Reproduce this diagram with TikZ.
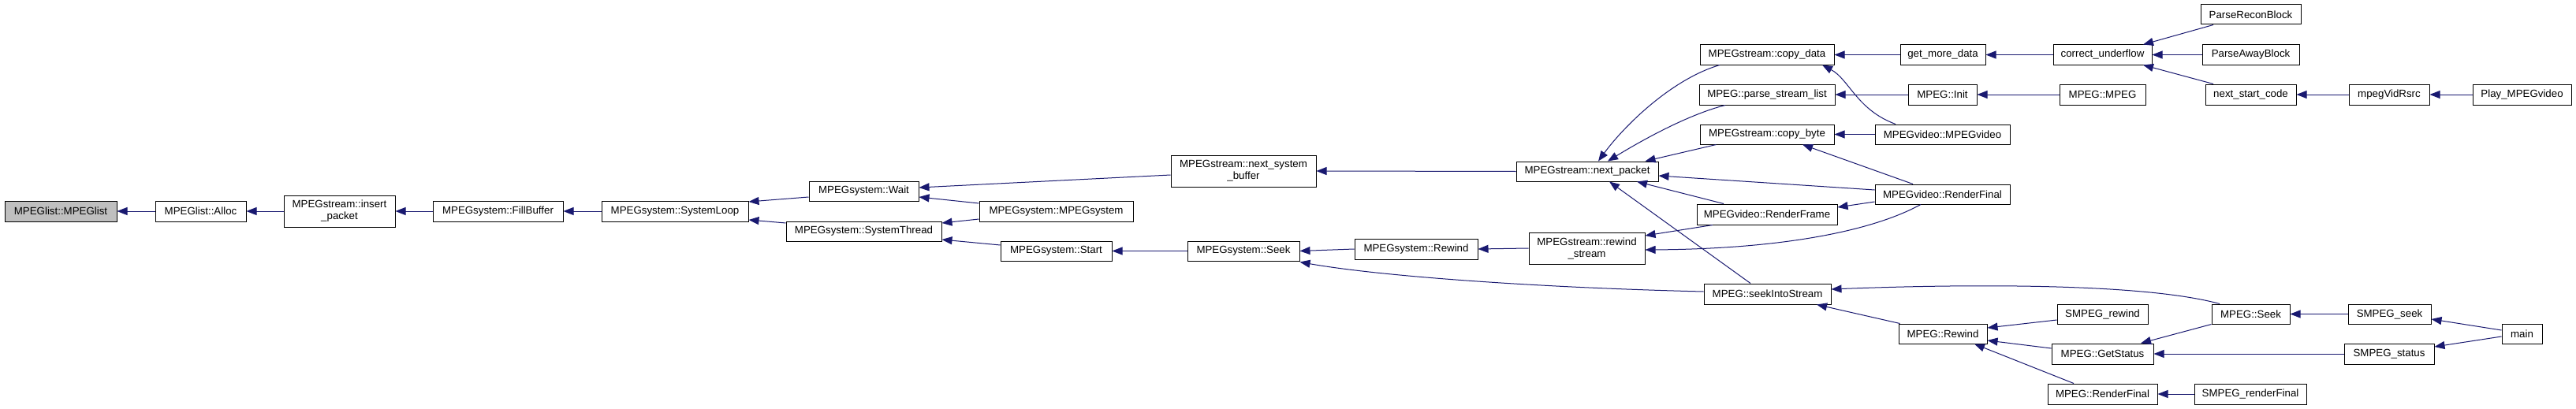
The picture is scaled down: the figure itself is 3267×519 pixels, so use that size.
\documentclass[tikz,border=0pt]{standalone}
\usepackage{fontspec}
\setmainfont{Liberation Sans}
\usetikzlibrary{arrows.meta,calc}
\definecolor{edgecol}{HTML}{191970}
\definecolor{rootfill}{HTML}{BFBFBF}
\begin{document}
\begin{tikzpicture}[x=1pt,y=-1pt,
  box/.style={draw=black, line width=1pt, fill=white, inner sep=0pt, align=center,
    font=\fontsize{13.3}{15}\selectfont},
  edge/.style={draw=edgecol, line width=1pt, {Triangle[length=13pt,width=10pt]}-}]
\useasboundingbox[fill=white] (0,0) rectangle (3267,519);
% nodes
\node[box, fill=rootfill, minimum width=142, minimum height=26] (mpeglist) at (77,268) {MPEGlist::MPEGlist};
\node[box, minimum width=115, minimum height=26] (alloc) at (254.5,268) {MPEGlist::Alloc};
\node[box, minimum width=141, minimum height=40] (insert) at (430.5,268) {MPEGstream::insert\\\_packet};
\node[box, minimum width=165, minimum height=26] (fill) at (631.5,268) {MPEGsystem::FillBuffer};
\node[box, minimum width=186, minimum height=26] (loop) at (856,268) {MPEGsystem::SystemLoop};
\node[box, minimum width=139, minimum height=25] (wait) at (1095.5,242.5) {MPEGsystem::Wait};
\node[box, minimum width=197, minimum height=25] (thread) at (1095.5,293.5) {MPEGsystem::SystemThread};
\node[box, minimum width=195, minimum height=26] (sysctor) at (1339.5,268) {MPEGsystem::MPEGsystem};
\node[box, minimum width=141, minimum height=25] (start) at (1339.5,318.5) {MPEGsystem::Start};
\node[box, minimum width=184, minimum height=40] (nsb) at (1577,217) {MPEGstream::next\_system\\\_buffer};
\node[box, minimum width=142, minimum height=25] (sysseek) at (1577,318.5) {MPEGsystem::Seek};
\node[box, minimum width=180, minimum height=25] (nextpacket) at (2013,217.5) {MPEGstream::next\_packet};
\node[box, minimum width=156, minimum height=26] (sysrewind) at (1796,316) {MPEGsystem::Rewind};
\node[box, minimum width=147, minimum height=40] (rewindstream) at (2012.5,315) {MPEGstream::rewind\\\_stream};
\node[box, minimum width=170, minimum height=25] (copydata) at (2241,69.5) {MPEGstream::copy\_data};
\node[box, minimum width=172, minimum height=26] (parse) at (2241,120) {MPEG::parse\_stream\_list};
\node[box, minimum width=170, minimum height=25] (copybyte) at (2241,170.5) {MPEGstream::copy\_byte};
\node[box, minimum width=178, minimum height=26] (renderframe) at (2241,272) {MPEGvideo::RenderFrame};
\node[box, minimum width=161, minimum height=26] (seekinto) at (2241.5,373) {MPEG::seekIntoStream};
\node[box, minimum width=108, minimum height=25] (getmore) at (2464,69.5) {get\_more\_data};
\node[box, minimum width=87, minimum height=26] (init) at (2463.5,120) {MPEG::Init};
\node[box, minimum width=171, minimum height=25] (vidctor) at (2463.5,170.5) {MPEGvideo::MPEGvideo};
\node[box, minimum width=171, minimum height=25] (vidrenderfinal) at (2463.5,246.5) {MPEGvideo::RenderFinal};
\node[box, minimum width=112, minimum height=25] (mpegrewind) at (2464,423.5) {MPEG::Rewind};
\node[box, minimum width=125, minimum height=25] (correct) at (2666.5,69.5) {correct\_underflow};
\node[box, minimum width=109, minimum height=26] (mpegctor) at (2666.5,120) {MPEG::MPEG};
\node[box, minimum width=115, minimum height=25] (smpegrewind) at (2666.5,398.5) {SMPEG\_rewind};
\node[box, minimum width=129, minimum height=26] (getstatus) at (2666.5,449) {MPEG::GetStatus};
\node[box, minimum width=139, minimum height=26] (mpegrenderfinal) at (2666.5,500) {MPEG::RenderFinal};
\node[box, minimum width=127, minimum height=25] (recon) at (2854.5,18.5) {ParseReconBlock};
\node[box, minimum width=123, minimum height=25] (away) at (2854.5,69.5) {ParseAwayBlock};
\node[box, minimum width=115, minimum height=26] (nsc) at (2854.5,120) {next\_start\_code};
\node[box, minimum width=99, minimum height=25] (mpegseek) at (2854.5,398.5) {MPEG::Seek};
\node[box, minimum width=142, minimum height=26] (smpegrenderfinal) at (2854,500) {SMPEG\_renderFinal};
\node[box, minimum width=102, minimum height=26] (vidrsrc) at (3030,120) {mpegVidRsrc};
\node[box, minimum width=105, minimum height=25] (smpegseek) at (3030.5,398.5) {SMPEG\_seek};
\node[box, minimum width=114, minimum height=26] (smpegstatus) at (3030,449) {SMPEG\_status};
\node[box, minimum width=125, minimum height=26] (play) at (3198.5,120) {Play\_MPEGvideo};
\node[box, minimum width=51, minimum height=25] (main) at (3198.5,423.5) {main};
% edges (arrowhead at the callee)
\draw[edge] (mpeglist.east) -- (alloc.west);
\draw[edge] (alloc.east) -- (insert.west);
\draw[edge] (insert.east) -- (fill.west);
\draw[edge] (fill.east) -- (loop.west);
\draw[edge] ($(loop.east)+(0,-12)$) -- ($(wait.west)+(0,7.5)$);
\draw[edge] ($(loop.east)+(0,11)$) -- ($(thread.west)+(0,-10.5)$);
\draw[edge] ($(wait.east)+(0,-4.5)$) -- ($(nsb.west)+(0,5)$);
\draw[edge] ($(wait.east)+(0,7.5)$) -- ($(sysctor.west)+(0,-10)$);
\draw[edge] ($(thread.east)+(0,-10.5)$) -- ($(sysctor.west)+(0,10)$);
\draw[edge] ($(thread.east)+(0,10.5)$) -- ($(start.west)+(0,-7.5)$);
\draw[edge] (start.east) -- (sysseek.west);
\draw[edge] (nsb.east) -- (nextpacket.west);
\draw[edge] (sysseek.east) -- (sysrewind.west);
\draw[edge] ($(sysseek.south east)+(0,1)$) .. controls +(102,18) and +(-211,-5) .. ($(seekinto.west)+(0,-3)$);
\draw[edge] (sysrewind.east) -- (rewindstream.west);
\draw[edge] ($(nextpacket.north)+(14,0)$) .. controls +(33,-45) and +(-61,18) .. ($(copydata.south)+(-60,0)$);
\draw[edge] ($(nextpacket.north)+(26,0)$) .. controls +(41,-25) and +(-48,12) .. ($(parse.south)+(-53,0)$);
\draw[edge] ($(nextpacket.north east)+(-17,0)$) -- ($(copybyte.south west)+(21,0)$);
\draw[edge] ($(nextpacket.east)+(0,5.5)$) -- ($(vidrenderfinal.west)+(0,-5.5)$);
\draw[edge] ($(nextpacket.south)+(63,0)$) -- ($(renderframe.north)+(-55,0)$);
\draw[edge] ($(nextpacket.south)+(28,0)$) -- ($(seekinto.north)+(-21.5,0)$);
\draw[edge] ($(rewindstream.east)+(0,-16)$) -- ($(renderframe.south)+(-69,0)$);
\draw[edge] ($(rewindstream.east)+(0,2)$) .. controls +(164,-1) and +(-66,36) .. ($(vidrenderfinal.south)+(-27.5,0)$);
\draw[edge] (copydata.east) -- (getmore.west);
\draw[edge] ($(copydata.south)+(70,0)$) .. controls +(34,18) and +(-49,-18) .. ($(vidctor.north)+(-59.5,0)$);
\draw[edge] (parse.east) -- (init.west);
\draw[edge] (copybyte.east) -- (vidctor.west);
\draw[edge] ($(copybyte.south)+(45,0)$) -- ($(vidrenderfinal.north)+(-37.5,0)$);
\draw[edge] ($(renderframe.east)+(0,-9)$) -- ($(vidrenderfinal.west)+(0,9.5)$);
\draw[edge] ($(seekinto.east)+(0,-6)$) .. controls +(178,-7) and +(-95,-26) .. ($(mpegseek.north)+(-39.5,0)$);
\draw[edge] ($(seekinto.south)+(62.5,0)$) -- ($(mpegrewind.north west)+(2,0)$);
\draw[edge] (getmore.east) -- (correct.west);
\draw[edge] (init.east) -- (mpegctor.west);
\draw[edge] ($(correct.north)+(51.5,0)$) -- ($(recon.south)+(-47.5,0)$);
\draw[edge] (correct.east) -- (away.west);
\draw[edge] ($(correct.south)+(51.5,0)$) -- ($(nsc.north)+(-47.5,0)$);
\draw[edge] (nsc.east) -- (vidrsrc.west);
\draw[edge] (vidrsrc.east) -- (play.west);
\draw[edge] ($(mpegrewind.east)+(0,-7.5)$) -- ($(smpegrewind.west)+(0,7.5)$);
\draw[edge] ($(mpegrewind.east)+(0,8.5)$) -- ($(getstatus.west)+(0,-7)$);
\draw[edge] ($(mpegrewind.south)+(40,0)$) -- ($(mpegrenderfinal.north)+(-36.5,0)$);
\draw[edge] ($(getstatus.north)+(48.5,0)$) -- (mpegseek.south west);
\draw[edge] (getstatus.east) -- (smpegstatus.west);
\draw[edge] (mpegrenderfinal.east) -- (smpegrenderfinal.west);
\draw[edge] (mpegseek.east) -- (smpegseek.west);
\draw[edge] ($(smpegseek.east)+(0,6.5)$) -- ($(main.west)+(0,-4.5)$);
\draw[edge] ($(smpegstatus.east)+(0,-9)$) -- ($(main.west)+(0,3.5)$);
\end{tikzpicture}
\end{document}
